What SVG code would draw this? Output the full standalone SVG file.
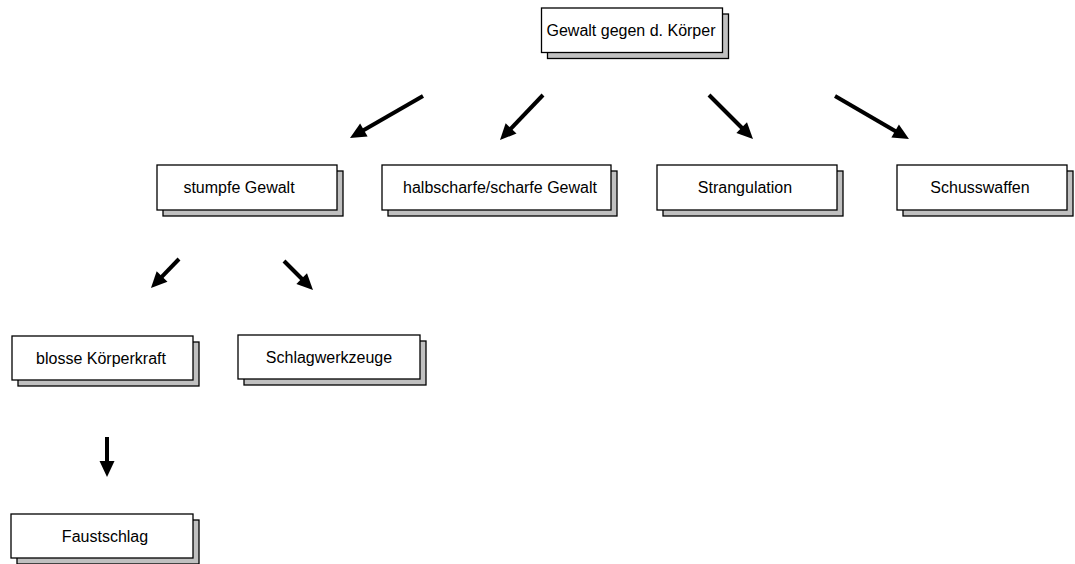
<svg xmlns="http://www.w3.org/2000/svg" width="1075" height="564" viewBox="0 0 1075 564">
<style>
.shadow{fill:#c0c0c0;stroke:#000;stroke-width:1.3}
.box{fill:#fff;stroke:#000;stroke-width:1.3}
.lbl{font-family:"Liberation Sans",Arial,sans-serif;font-size:16px;fill:#000;text-anchor:middle}
.arr{stroke:#000;stroke-width:4;fill:none;marker-end:url(#ah)}
</style>
<defs>
<marker id="ah" markerUnits="userSpaceOnUse" markerWidth="16" markerHeight="15" refX="4" refY="7.5" orient="auto" overflow="visible">
<path d="M0,0 L16,7.5 L0,15 Z" fill="#000"/>
</marker>
</defs>
<rect width="1075" height="564" fill="#fff"/>
<g id="connectors">
<line class="arr" x1="423" y1="96" x2="360.4" y2="132"/>
<line class="arr" x1="543" y1="95" x2="508.3" y2="131.3"/>
<line class="arr" x1="709" y1="95" x2="744.5" y2="130.5"/>
<line class="arr" x1="835" y1="96" x2="898.6" y2="133"/>
<line class="arr" x1="179" y1="259" x2="159.3" y2="279.4"/>
<line class="arr" x1="284" y1="261" x2="304.5" y2="281.5"/>
<line class="arr" x1="107" y1="437" x2="107" y2="465"/>
</g>
<g id="n-top">
<rect class="shadow" x="547.5" y="14" width="181" height="44.5"/>
<rect class="box" x="541.5" y="8" width="181" height="44.5"/>
<text class="lbl" x="631" y="36">Gewalt gegen d. Körper</text>
</g>
<g id="n-stumpfe">
<rect class="shadow" x="163" y="171" width="180" height="45"/>
<rect class="box" x="157" y="165" width="180" height="45"/>
<text class="lbl" x="239" y="193">stumpfe Gewalt</text>
</g>
<g id="n-halbscharfe">
<rect class="shadow" x="388" y="171" width="229" height="45"/>
<rect class="box" x="382" y="165" width="229" height="45"/>
<text class="lbl" x="500" y="193">halbscharfe/scharfe Gewalt</text>
</g>
<g id="n-strangulation">
<rect class="shadow" x="663" y="171" width="180" height="45"/>
<rect class="box" x="657" y="165" width="180" height="45"/>
<text class="lbl" x="745" y="193">Strangulation</text>
</g>
<g id="n-schusswaffen">
<rect class="shadow" x="903" y="171" width="170" height="45"/>
<rect class="box" x="897" y="165" width="170" height="45"/>
<text class="lbl" x="980" y="193">Schusswaffen</text>
</g>
<g id="n-blosse">
<rect class="shadow" x="18" y="342" width="181" height="44"/>
<rect class="box" x="12" y="336" width="181" height="44"/>
<text class="lbl" x="101" y="364">blosse Körperkraft</text>
</g>
<g id="n-schlag">
<rect class="shadow" x="244" y="341" width="182" height="44"/>
<rect class="box" x="238" y="335" width="182" height="44"/>
<text class="lbl" x="329" y="363">Schlagwerkzeuge</text>
</g>
<g id="n-faust">
<rect class="shadow" x="17" y="520" width="182" height="44"/>
<rect class="box" x="11" y="514" width="182" height="44"/>
<text class="lbl" x="105" y="542">Faustschlag</text>
</g>
</svg>
